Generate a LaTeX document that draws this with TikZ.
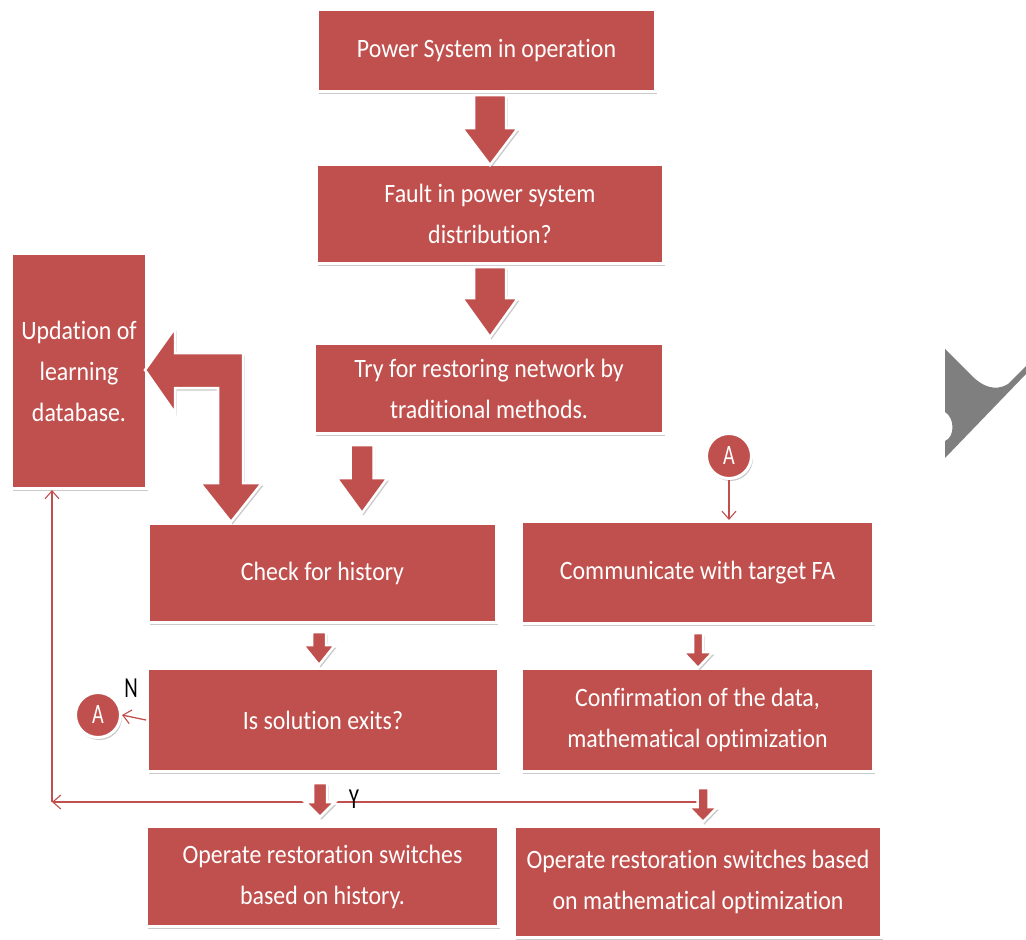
\documentclass[tikz,border=0pt]{standalone}
\usepackage{fontspec}
\setmainfont{Carlito}[FakeStretch=0.9,RawFeature=-liga]
\newfontfamily\narrowfont{Carlito}[FakeStretch=0.72,RawFeature=-liga]
\usetikzlibrary{shadows,arrows.meta,calc}
\definecolor{boxred}{HTML}{C0504D}
\definecolor{shapegray}{HTML}{7F7F7F}
\tikzset{
  boxshadow/.style={drop shadow={opacity=0.35,shadow xshift=1.5pt,shadow yshift=-2.5pt,fill=black!60}},
  flowbox/.style={rectangle,fill=boxred,draw=white,line width=3pt,boxshadow,
    text=white,align=center,inner sep=0pt,
    font=\fontsize{26.5}{41}\selectfont},
  blockarr/.style={fill=boxred,draw=white,line width=2.5pt,line join=miter,boxshadow},
  thinline/.style={draw=boxred,line width=1.3pt,-{Straight Barb[length=8pt,width=14pt,line width=1.1pt]}},
  connA/.style={circle,fill=boxred,draw=white,line width=3pt,boxshadow,
    minimum size=45pt,inner sep=0pt,text=white,font=\narrowfont\fontsize{28}{28}\selectfont},
  yn/.style={text=black,font=\narrowfont\fontsize{29}{29}\selectfont,inner sep=0pt}
}
\newcommand{\boxat}[7][]{% opts, name, x1,y1,x2,y2, text
  \node[flowbox,#1,minimum width={#5-#3-3},minimum height={#6-#4-3}] (#2) at ({(#3+#5)/2},{(#4+#6)/2}) {#7};}
\newcommand{\downarr}[6]{% cx, top, headstart, tip, shaft half, head half
  \draw[blockarr] ({#1-#5},#2) -- ({#1+#5},#2) -- ({#1+#5},#3) -- ({#1+#6},#3) -- (#1,#4)
    -- ({#1-#6},#3) -- ({#1-#5},#3) -- cycle;}
\begin{document}
\begin{tikzpicture}[x=1pt,y=-1pt]
\useasboundingbox (0,0) rectangle (1026,940);
% gray fragment
\fill[shapegray] (945,349) -- (972,376) .. controls (982,386) and (995,392) .. (1008,384)
  -- (1026,366) -- (1026,374) -- (945,458) -- (945,441)
  .. controls (955,437) and (955,418) .. (945,412) -- cycle;
% boxes
\boxat{p1}{316}{8}{657}{93}{Power System in operation}
\boxat{p2}{315}{163}{665}{265}{Fault in power system\\distribution?}
\boxat{p3}{313}{342}{665}{435}{Try for restoring network by\\traditional methods.}
\boxat{upd}{10}{252}{148}{490}{Updation of\\learning\\database.}
\boxat{chk}{147}{522}{498}{624}{Check for history}
\boxat{com}{520}{520}{875}{625}{Communicate with target FA}
\boxat{sol}{146}{667}{500}{773}{Is solution exits?}
\boxat{conf}{520}{667}{875}{773}{Confirmation of the data,\\mathematical optimization}
\boxat{oph}{145}{825}{500}{928}{Operate restoration switches\\based on history.}
\boxat{opm}{513}{825}{883}{939}{Operate restoration switches based\\on mathematical optimization}
% thin connectors
\coordinate (loopR) at (698,802);
\coordinate (loopL) at (52,802);
\draw[thinline] (loopR) -- (loopL);
\draw[thinline] (loopL) -- (loopL |- upd.south);
\node[connA] (A1) at (98,715) {A};
\node[connA] (A2) at (729,456) {A};
\draw[thinline] (sol.west) -- (A1.east);
\draw[thinline] (A2.south) -- (A2.south |- com.north);
\node[yn] (N) at (131,688) {N};
\node[yn] (Y) at (354,799) {Y};
% block arrows
\downarr{490}{95}{128}{165}{16}{28}
\downarr{490}{267}{298}{337}{16}{28}
\downarr{362}{445}{478}{513}{11.5}{25.5}
\downarr{319}{632}{645}{665}{7}{16}
\downarr{320}{783}{802}{817}{7}{15}
\downarr{698}{633}{652}{668}{5}{15}
\downarr{703}{788}{807}{822}{5.5}{14.5}
% bent arrow
\draw[blockarr] (145,370) -- (175,328) -- (175,353) -- (243,353) -- (243,483) -- (262,483)
  -- (231,522) -- (200,483) -- (218,483) -- (218,388) -- (175,388) -- (175,413) -- cycle;
\end{tikzpicture}
\end{document}
